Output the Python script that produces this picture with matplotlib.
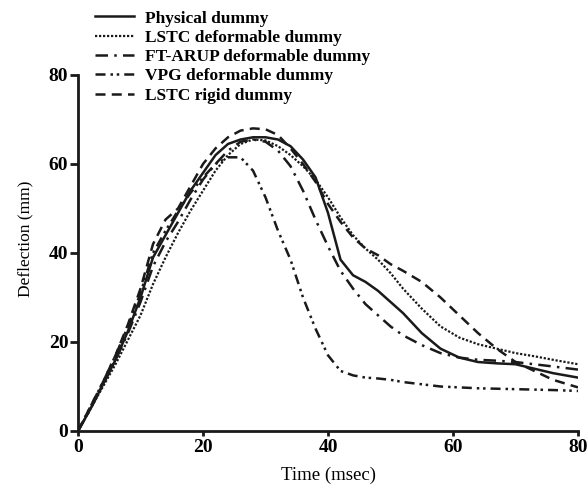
import matplotlib
matplotlib.use("Agg")
import matplotlib.pyplot as plt

# deflection curves (time in msec, deflection in mm)
time = [0, 2, 4, 6, 8, 10, 12, 14, 16, 18, 20, 22, 24, 26, 28, 30, 32, 34, 36,
        38, 40, 42, 44, 46, 48, 50, 52, 55, 58, 61, 64, 67, 70, 73, 76, 80]

physical = [0, 5, 10.5, 16, 22.5, 30, 39, 44, 49, 54, 58, 62, 64.5, 65.5, 66, 66,
            65.5, 64, 61, 57, 49, 38.5, 35, 33.5, 31.5, 29, 26.5, 22, 18.5, 16.5,
            15.5, 15.2, 15, 14, 13, 12]
lstc_def = [0, 5, 10, 15, 20.5, 26, 33, 39, 44.5, 49.5, 54, 58.5, 62, 64.5, 65.5,
            65.3, 64, 62, 59.5, 56.5, 52.5, 48, 44, 41, 38.5, 35.5, 32, 27.5, 23.5,
            21, 19.5, 18.5, 17.5, 16.8, 16, 15]
ftarup_def = [0, 5, 10.5, 16, 22, 29, 37, 42.5, 47, 52, 56.5, 60, 63, 65, 65.5, 65,
              63, 59.5, 54, 47.5, 41.5, 36, 32, 28.5, 26, 23.5, 21.5, 19.3, 17.5,
              16.5, 16, 15.8, 15.5, 15, 14.5, 13.8]
vpg_def = [0, 5.5, 11, 17, 23.5, 31, 40, 45, 49.5, 53.5, 57, 60, 61.5, 61.5, 58.5,
           52.5, 45, 38.5, 30, 23, 17, 13.5, 12.5, 12, 11.8, 11.5, 11, 10.5, 10,
           9.8, 9.6, 9.5, 9.4, 9.3, 9.2, 9]
lstc_rigid = [0, 5.5, 11, 17, 24, 32, 42, 47.5, 50, 55, 60, 63.5, 66, 67.5, 68,
              67.8, 66.5, 63.5, 60, 56, 51, 47, 43.5, 41, 39.5, 37.5, 36, 33.5, 30,
              26, 22, 18.5, 15.5, 13.5, 11.5, 9.8]

ticks = [0, 20, 40, 60, 80]

plt.rcParams['font.family'] = ['Liberation Serif', 'DejaVu Serif']

fig = plt.figure(figsize=(5.88, 4.91), dpi=100)
ax = fig.add_axes([0.1327, 0.1222, 0.8503, 0.7251])

ink = '#1a1a1a'
ax.plot(time, physical, color=ink, lw=1.8, ls='-', label='Physical dummy')
ax.plot(time, lstc_def, color=ink, lw=1.6, ls=(0, (1, 0.8)), label='LSTC deformable dummy')
ax.plot(time, ftarup_def, color=ink, lw=1.8, ls=(0, (5, 2.5, 1, 2.5)), label='FT-ARUP deformable dummy')
ax.plot(time, vpg_def, color=ink, lw=1.8, ls=(0, (4, 2, 1, 1.5, 1, 2)), label='VPG deformable dummy')
ax.plot(time, lstc_rigid, color=ink, lw=1.8, ls=(0, (4, 2.5)), label='LSTC rigid dummy')

ax.set_xlim(0, 80)
ax.set_ylim(0, 80)
ax.set_xticks(ticks)
ax.set_yticks(ticks)
for s in ['top', 'right']:
    ax.spines[s].set_visible(False)
for s in ['left', 'bottom']:
    ax.spines[s].set_linewidth(2)
    ax.spines[s].set_color(ink)
ax.tick_params(axis='x', width=2, length=3.5, color=ink, labelsize=14, pad=2)
ax.tick_params(axis='y', width=2, length=6, color=ink, labelsize=14, pad=1)
for lab in ax.get_xticklabels() + ax.get_yticklabels():
    lab.set_fontweight('bold')

ax.set_xlabel('Time (msec)', fontsize=13.5, labelpad=8)
ax.set_ylabel('Deflection (mm)', fontsize=12.5)
ax.yaxis.set_label_coords(-0.09, 0.54)

fig.legend(loc='upper left', bbox_to_anchor=(0.143, 1.0), frameon=False,
           prop={'size': 12.5, 'weight': 'bold'}, handlelength=2.3,
           handletextpad=0.6, labelspacing=0.18, borderaxespad=0.2)

fig.savefig('out.png', dpi=100)
